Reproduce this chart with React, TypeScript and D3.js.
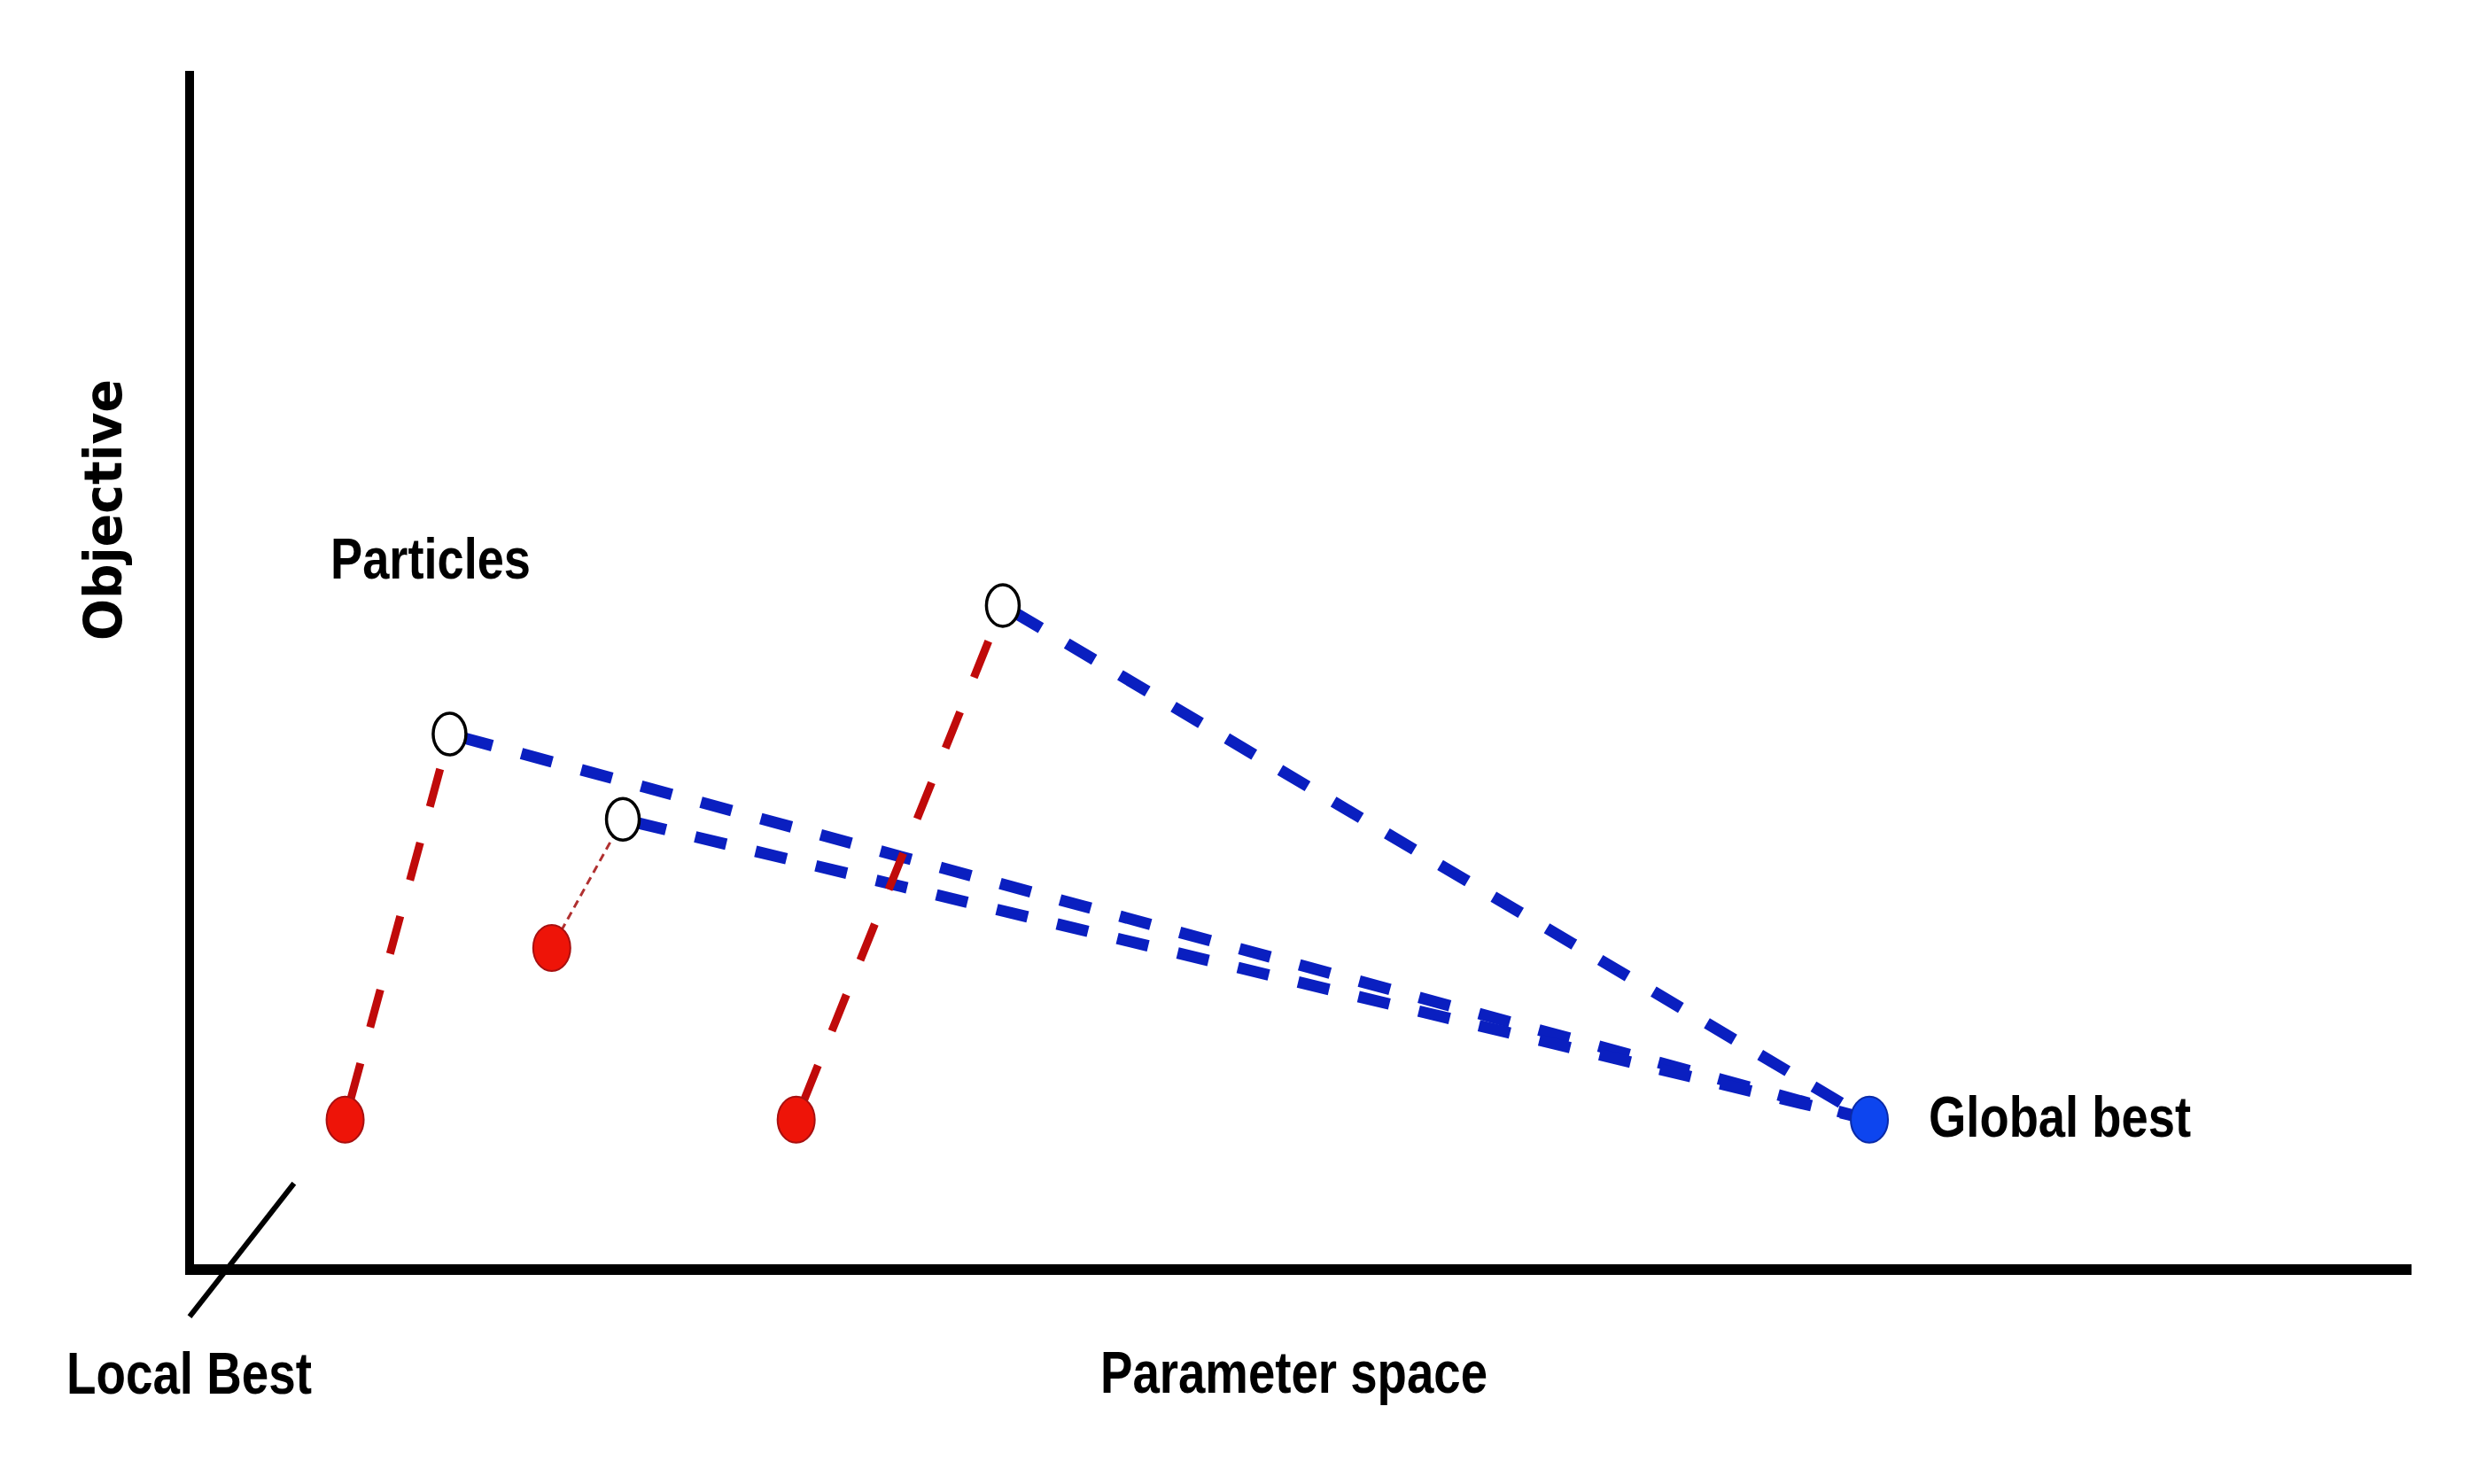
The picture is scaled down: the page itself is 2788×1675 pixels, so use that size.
import * as d3 from 'd3'

// Parameter space / objective values of the sketch (arbitrary 0-10 units)
const localBestX = [0.70, 1.63, 2.73]
const localBestY = [1.27, 2.70, 1.27]
const particleX = [1.17, 1.95, 3.66]
const particleY = [4.48, 3.77, 5.55]
const globalBestX = 7.56
const globalBestY = 1.27

// which local-best links are drawn as the thin dotted one
const thinLink = [false, true, false]

// pointer from the "Local Best" label towards the corner
const pointerX = [0, 0.47]
const pointerY = [-0.37, 0.74]

const WIDTH = 2788
const HEIGHT = 1675

export default function App() {
  const x = d3.scaleLinear().domain([0, 10]).range([214, 2722])
  const y = d3.scaleLinear().domain([0, 10]).range([1436, 80])

  const line = d3
    .line<[number, number]>()
    .x((d) => x(d[0]))
    .y((d) => y(d[1]))

  const particles = particleX.map((px, i) => ({ x: px, y: particleY[i] }))
  const locals = localBestX.map((lx, i) => ({ x: lx, y: localBestY[i] }))

  return (
    <svg
      width={WIDTH}
      height={HEIGHT}
      style={{ position: 'absolute', left: 0, top: 0, background: '#fff' }}
    >
      {/* Axes */}
      <line x1={x(0)} x2={x(0)} y1={y(10)} y2={y(0) + 3} stroke="#000" strokeWidth={10} />
      <line x1={x(0) - 5} x2={x(10)} y1={y(0) - 3} y2={y(0) - 3} stroke="#000" strokeWidth={12} />

      {/* Local best pointer */}
      <path
        d={line(pointerX.map((v, i) => [v, pointerY[i]]) as [number, number][]) || ''}
        stroke="#000"
        strokeWidth={6}
        fill="none"
      />

      {/* Particle -> global best links */}
      {particles.map((p, i) => (
        <path
          key={'g' + i}
          d={line([[p.x, p.y], [globalBestX, globalBestY]]) || ''}
          stroke="#0a1fc0"
          strokeWidth={13}
          strokeDasharray="36 34"
          strokeDashoffset={-14}
          fill="none"
        />
      ))}

      {/* Local best -> particle links */}
      {locals.map((l, i) => (
        <path
          key={'l' + i}
          d={line([[l.x, l.y], [particles[i].x, particles[i].y]]) || ''}
          stroke={thinLink[i] ? '#b03030' : '#c00a0a'}
          strokeWidth={thinLink[i] ? 3 : 9}
          strokeDasharray={thinLink[i] ? '9 6' : '44 42'}
          strokeDashoffset={-22}
          fill="none"
        />
      ))}

      {/* Local best dots */}
      {locals.map((l, i) => (
        <ellipse
          key={'ld' + i}
          cx={x(l.x)}
          cy={y(l.y)}
          rx={21}
          ry={26}
          fill="#ee1408"
          stroke="#a81010"
          strokeWidth={2}
        />
      ))}

      {/* Particles */}
      {particles.map((p, i) => (
        <ellipse
          key={'p' + i}
          cx={x(p.x)}
          cy={y(p.y)}
          rx={18.5}
          ry={23.5}
          fill="#fff"
          stroke="#000"
          strokeWidth={3.5}
        />
      ))}

      {/* Global best */}
      <ellipse
        cx={x(globalBestX)}
        cy={y(globalBestY)}
        rx={21}
        ry={26}
        fill="#0d45ef"
        stroke="#0a2aa8"
        strokeWidth={2}
      />

      {/* Labels */}
      <g fontFamily="'Liberation Sans', Arial, sans-serif" fontWeight="bold" fill="#000">
        <text x={373} y={653} fontSize={64} textLength={226} lengthAdjust="spacingAndGlyphs">
          Particles
        </text>
        <text
          x={x(globalBestX) + 67}
          y={1283}
          fontSize={64}
          textLength={296}
          lengthAdjust="spacingAndGlyphs"
        >
          Global best
        </text>
        <text x={1242} y={1572} fontSize={66} textLength={437} lengthAdjust="spacingAndGlyphs">
          Parameter space
        </text>
        <text x={75} y={1573} fontSize={66} textLength={277} lengthAdjust="spacingAndGlyphs">
          Local Best
        </text>
      </g>
      <text
        transform="translate(137,723) rotate(-90)"
        fontFamily="'DejaVu Sans', sans-serif"
        fontWeight="bold"
        fontSize={59}
        textLength={295}
        lengthAdjust="spacingAndGlyphs"
      >
        Objective
      </text>
    </svg>
  )
}
